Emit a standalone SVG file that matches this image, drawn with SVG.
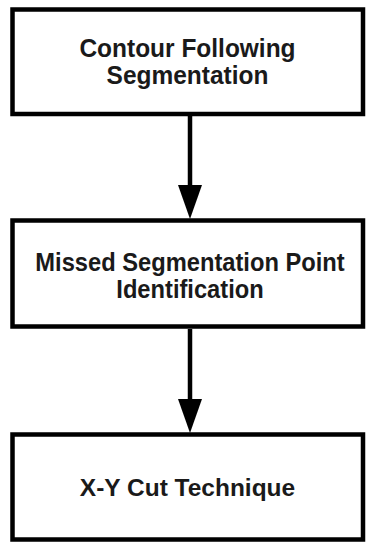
<svg xmlns="http://www.w3.org/2000/svg" width="366" height="542" viewBox="0 0 366 542">
<style>
.box{fill:#fff;stroke:#000;stroke-width:4.5}
.lbl{font-family:"Liberation Sans",Arial,sans-serif;font-weight:bold;font-size:24px;fill:#1a1a1a;text-anchor:middle}
.con{stroke:#000;stroke-width:4.5;fill:none}
.head{fill:#000}
</style>
<rect width="366" height="542" fill="#fff"/>
<g id="node1">
<rect class="box" x="12.5" y="9.5" width="350.5" height="104.5"/>
<text class="lbl" transform="translate(187.5,57) scale(1.02,1.08)">Contour Following</text>
<text class="lbl" transform="translate(187.5,84) scale(1.02,1.08)">Segmentation</text>
</g>
<g id="node2">
<rect class="box" x="12.5" y="220.5" width="350.5" height="106"/>
<text class="lbl" transform="translate(190,271) scale(1,1.08)" style="font-size:23.7px">Missed Segmentation Point</text>
<text class="lbl" transform="translate(190,298) scale(1,1.08)" style="font-size:23.7px">Identification</text>
</g>
<g id="node3">
<rect class="box" x="12.5" y="434.5" width="350.5" height="105"/>
<text class="lbl" transform="translate(187.5,496) scale(1.02,1.03)">X-Y Cut Technique</text>
</g>
<g id="connectors">
<line class="con" x1="190" y1="116" x2="190" y2="188"/>
<polygon class="head" points="178,185 202,185 190,219"/>
<line class="con" x1="190" y1="329" x2="190" y2="402"/>
<polygon class="head" points="178,399 202,399 190,433"/>
</g>
</svg>
